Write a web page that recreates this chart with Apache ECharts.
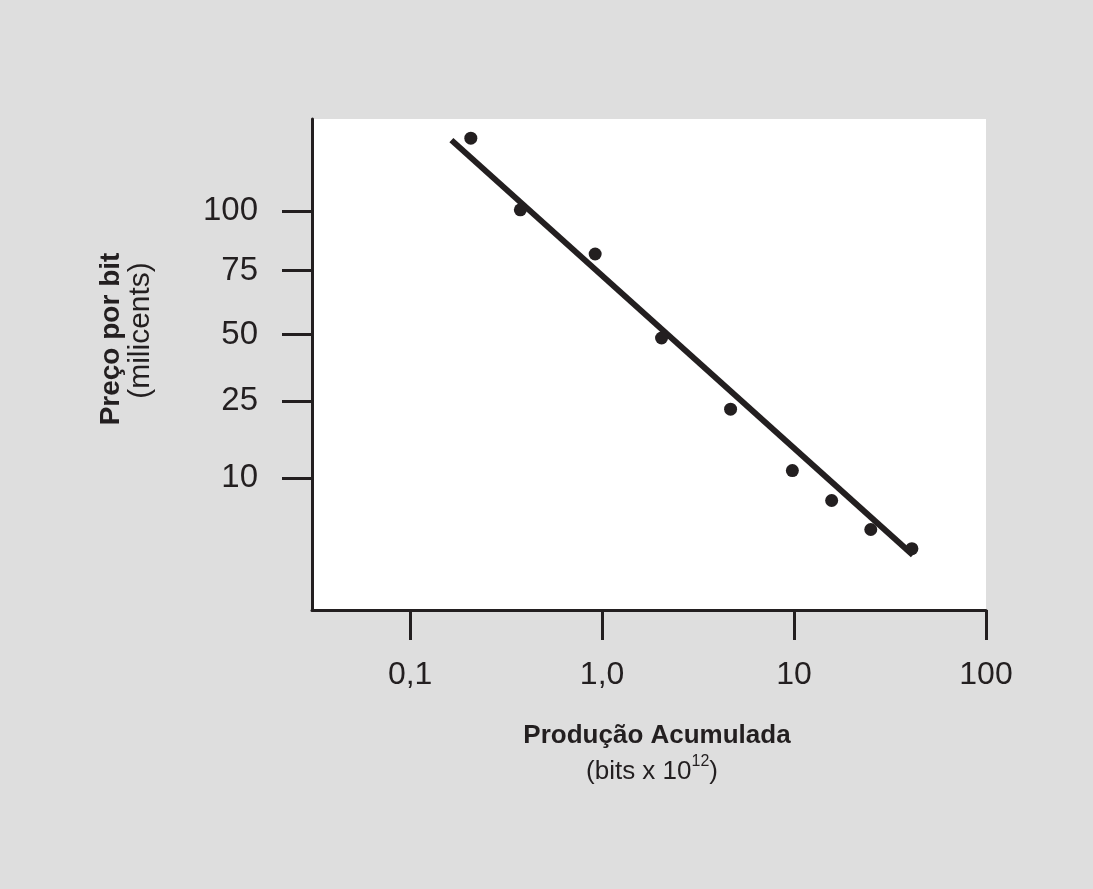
<!DOCTYPE html>
<html>
<head>
<meta charset="utf-8">
<title>Preço por bit x Produção Acumulada</title>
<script src="https://cdn.jsdelivr.net/npm/echarts@6/dist/echarts.min.js"></script>
<style>
html, body { margin: 0; padding: 0; background: #dedede; }
#chart { width: 1093px; height: 889px; }
</style>
</head>
<body>
<div id="chart"></div>
<script>
// produção acumulada (bits x 10^12) de cada ponto
var producao = [0.207, 0.375, 0.92, 2.04, 4.67, 9.8, 15.7, 25.1, 41.1];
// preço por bit, lido na escala do eixo vertical (que não é linear nem log)
var preco = [96.1, 81.5, 72.5, 55.4, 40.9, 28.4, 22.3, 16.4, 12.5];

// reta de tendência: os dois extremos
var retaX = [0.164, 41.6];
var retaY = [95.7, 11.2];

// marcas dos eixos
var xTicks = [0.1, 1, 10, 100];
var xTickLabels = ['0,1', '1,0', '10', '100'];
var yTicks = [26.9, 42.6, 56.1, 69.1, 81.3];
var yTickLabels = ['10', '25', '50', '75', '100'];

var ink = '#231f20';
var fonte = 'Liberation Sans, Arial, sans-serif';

function rotulo(lista, nomes, v) {
    var best = 0;
    for (var i = 1; i < lista.length; i++) {
        if (Math.abs(Math.log(lista[i] / v)) < Math.abs(Math.log(lista[best] / v))) best = i;
    }
    return nomes[best];
}

var pontos = [];
for (var i = 0; i < producao.length; i++) {
    pontos.push([producao[i], preco[i]]);
}
var reta = [[retaX[0], retaY[0]], [retaX[1], retaY[1]]];

var myChart = echarts.init(document.getElementById('chart'));

var option = {
    animation: false,
    backgroundColor: '#dedede',
    textStyle: { fontFamily: fonte, color: ink },
    grid: {
        left: 312, top: 119, right: 107, bottom: 279,
        show: true, backgroundColor: '#ffffff', borderWidth: 0
    },
    xAxis: {
        type: 'log',
        logBase: 10,
        min: 0.0308,
        max: 100,
        axisLine: { show: true, lineStyle: { color: ink, width: 3 } },
        axisTick: { show: true, length: 30, customValues: xTicks, lineStyle: { color: ink, width: 3 } },
        axisLabel: {
            customValues: xTicks,
            fontSize: 32, color: ink, fontFamily: fonte, margin: 49,
            formatter: function (v) { return rotulo(xTicks, xTickLabels, v); }
        },
        splitLine: { show: false },
        minorTick: { show: false },
        name: '{b|Produção Acumulada}\n{n|(bits x 10}{s|12}{e|)}',
        nameLocation: 'middle',
        nameGap: 108,
        nameTextStyle: {
            padding: [0, 0, 0, 16],
            rich: {
                b: { fontSize: 26, fontWeight: 'bold', lineHeight: 36, color: ink, fontFamily: fonte },
                n: { fontSize: 26, lineHeight: 36, color: ink, fontFamily: fonte },
                s: { fontSize: 16, lineHeight: 16, verticalAlign: 'top', color: ink, fontFamily: fonte },
                e: { fontSize: 26, lineHeight: 36, color: ink, fontFamily: fonte, padding: [0, 10, 0, 0] }
            }
        }
    },
    yAxis: {
        type: 'value',
        min: 0,
        max: 100,
        axisLine: { show: true, lineStyle: { color: ink, width: 3 } },
        axisTick: { show: true, length: 30, customValues: yTicks, lineStyle: { color: ink, width: 3 } },
        axisLabel: {
            customValues: yTicks,
            fontSize: 33, color: ink, fontFamily: fonte, margin: 54,
            formatter: function (v) { return rotulo(yTicks, yTickLabels, v); }
        },
        splitLine: { show: false },
        name: '{b|Preço por bit}\n{n|(milicents)}',
        nameLocation: 'middle',
        nameRotate: 90,
        nameGap: 156,
        nameTextStyle: {
            padding: [0, 0, 0, 51],
            rich: {
                b: { fontSize: 28, fontWeight: 'bold', lineHeight: 30, color: ink, fontFamily: fonte },
                n: { fontSize: 30, lineHeight: 30, color: ink, fontFamily: fonte, padding: [0, 0, 0, 17] }
            }
        }
    },
    series: [{
        name: 'tendência',
        type: 'line',
        data: reta,
        symbol: 'none',
        lineStyle: { color: ink, width: 6, opacity: 1 },
        z: 2
    }, {
        name: 'preço',
        type: 'scatter',
        data: pontos,
        symbol: 'circle',
        symbolSize: 13,
        itemStyle: { color: ink, opacity: 1 },
        z: 3
    }]
};

myChart.setOption(option);
</script>
</body>
</html>
